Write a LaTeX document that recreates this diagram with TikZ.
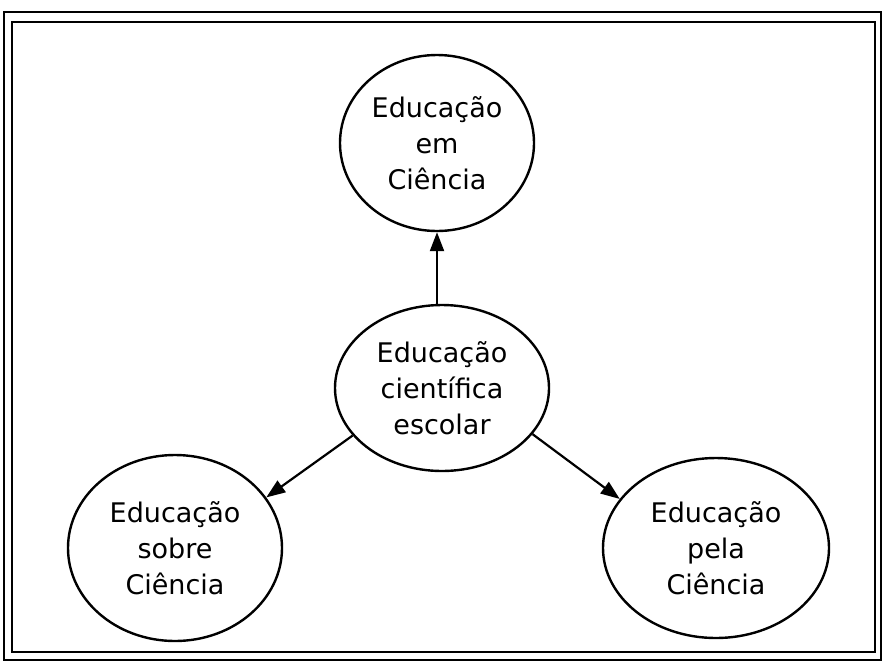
\documentclass[tikz,border=0pt]{standalone}
\usepackage{fontspec}
\setmainfont{DejaVu Sans}
\usetikzlibrary{shapes.geometric,arrows.meta}

\tikzset{
    bubble/.style={draw,ellipse,line width=2.4pt,inner sep=0pt,align=center,
        font=\fontsize{27}{36}\selectfont},
    link/.style={line width=2.2pt,-{Triangle[length=19pt,width=14pt]}}
}

\begin{document}
\begin{tikzpicture}[x=1pt,y=-1pt]
    \useasboundingbox (0,0) rectangle (883,665);

    % frame
    \draw [line width=1.4pt] (4,12) rectangle (881,660);
    \draw [line width=2.4pt] (12,22) rectangle (875,652);

    \node [bubble,minimum width=194pt,minimum height=176pt] (top) at (437,143)
        {Educação\\em\\Ciência};
    \node [bubble,minimum width=214pt,minimum height=166pt] (centre) at (442,388)
        {Educação\\científica\\escolar};
    \node [bubble,minimum width=214pt,minimum height=186pt] (left) at (175,548)
        {Educação\\sobre\\Ciência};
    \node [bubble,minimum width=226pt,minimum height=180pt] (right) at (716,548)
        {Educação\\pela\\Ciência};

    \draw [link] (centre.north -| top.south) -- (top.south);
    \draw [link] (centre.208) -- (left.29);
    \draw [link] (centre.333) -- (right.153);
\end{tikzpicture}
\end{document}
